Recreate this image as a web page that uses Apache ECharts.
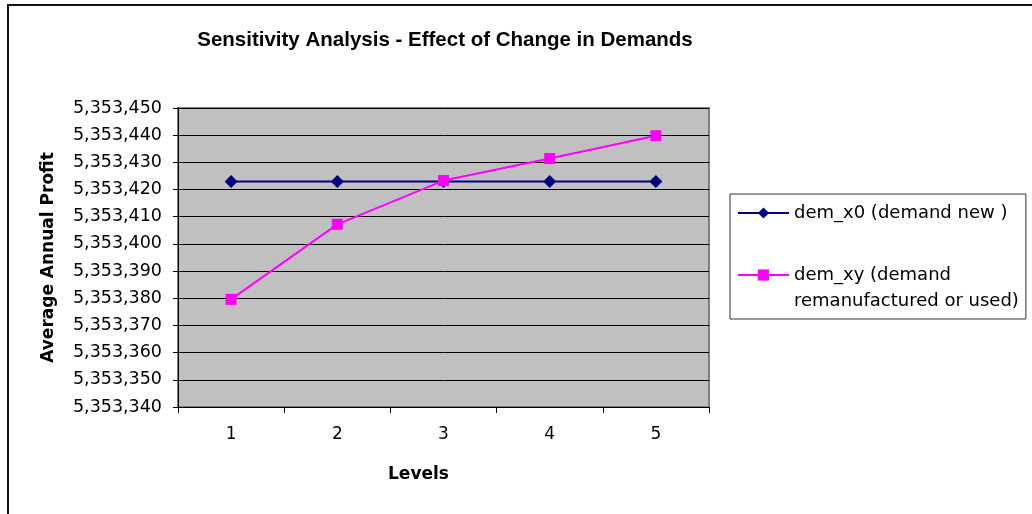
<!DOCTYPE html>
<html>
<head>
<meta charset="utf-8">
<title>Sensitivity Analysis</title>
<script src="https://cdn.jsdelivr.net/npm/echarts@6/dist/echarts.min.js"></script>
<style>
  html, body { margin: 0; padding: 0; background: #fff; }
  #frame {
    position: absolute; left: 7px; top: 4px; width: 1025px; height: 510px;
    border-top: 2px solid #111; border-left: 2px solid #111; box-sizing: border-box;
  }
  #chart { position: absolute; left: 0; top: 0; width: 1032px; height: 514px; }
</style>
</head>
<body>
<div id="frame"></div>
<div id="chart"></div>
<script>
const levels = ['1', '2', '3', '4', '5']
const demandNew = [5353423, 5353423, 5353423, 5353423, 5353423]
const demandUsed = [5353379.6, 5353407.2, 5353423.3, 5353431.4, 5353439.8]
const seriesNames = ['dem_x0 (demand new )', 'dem_xy (demand\nremanufactured or used)']

const titleFont = 'Liberation Sans, Arial, sans-serif'
const font = 'DejaVu Sans, Verdana, sans-serif'

const chart = echarts.init(document.getElementById('chart'))
chart.setOption({
  animation: false,
  title: {
    text: 'Sensitivity Analysis - Effect of Change in Demands',
    left: 445,
    top: 30,
    textAlign: 'center',
    padding: 0,
    textStyle: { fontFamily: titleFont, fontSize: 20.5, fontWeight: 'bold', color: '#000' }
  },
  legend: {
    orient: 'vertical',
    left: 730,
    top: 194,
    padding: [6, 7, 5, 7],
    itemGap: 10,
    itemWidth: 51,
    itemHeight: 14,
    backgroundColor: '#fff',
    borderColor: '#333',
    borderWidth: 1,
    borderRadius: 0,
    formatter: (name) => name.indexOf('\n') >= 0 ? '\n' + name : name,
    textStyle: { fontFamily: font, fontSize: 18, color: '#000', lineHeight: 26 },
    data: seriesNames
  },
  grid: {
    left: 178,
    right: 323,
    top: 108,
    bottom: 107,
    show: true,
    backgroundColor: '#c0c0c0',
    borderColor: '#808080',
    borderWidth: 2
  },
  xAxis: {
    type: 'category',
    data: levels,
    boundaryGap: true,
    name: 'Levels',
    nameLocation: 'middle',
    nameGap: 59,
    nameTextStyle: { fontFamily: font, fontSize: 17, fontWeight: 'bold', color: '#000', padding: [0, 50, 0, 0] },
    axisLine: { lineStyle: { color: '#000', width: 1 } },
    axisTick: { show: true, length: 6, alignWithLabel: false, lineStyle: { color: '#000' } },
    axisLabel: { fontFamily: font, fontSize: 17, color: '#000', margin: 19 },
    splitLine: { show: false }
  },
  yAxis: {
    type: 'value',
    min: 5353340,
    max: 5353450,
    interval: 10,
    name: 'Average Annual Profit',
    nameLocation: 'middle',
    nameGap: 121,
    nameTextStyle: { fontFamily: font, fontSize: 17, fontWeight: 'bold', color: '#000' },
    axisLine: { show: true, lineStyle: { color: '#000', width: 1 } },
    axisTick: { show: true, length: 5, lineStyle: { color: '#000' } },
    axisLabel: {
      fontFamily: font, fontSize: 17.5, color: '#000', margin: 16,
      formatter: (v) => v.toLocaleString('en-US')
    },
    splitLine: { show: true, lineStyle: { color: '#000', width: 1 } }
  },
  series: [
    {
      name: seriesNames[0],
      type: 'line',
      data: demandNew,
      symbol: 'diamond',
      symbolSize: 13,
      itemStyle: { color: '#000080' },
      lineStyle: { color: '#000080', width: 2 }
    },
    {
      name: seriesNames[1],
      type: 'line',
      data: demandUsed,
      symbol: 'rect',
      symbolSize: 11,
      itemStyle: { color: '#ff00ff' },
      lineStyle: { color: '#ff00ff', width: 2 }
    }
  ]
})
</script>
</body>
</html>
